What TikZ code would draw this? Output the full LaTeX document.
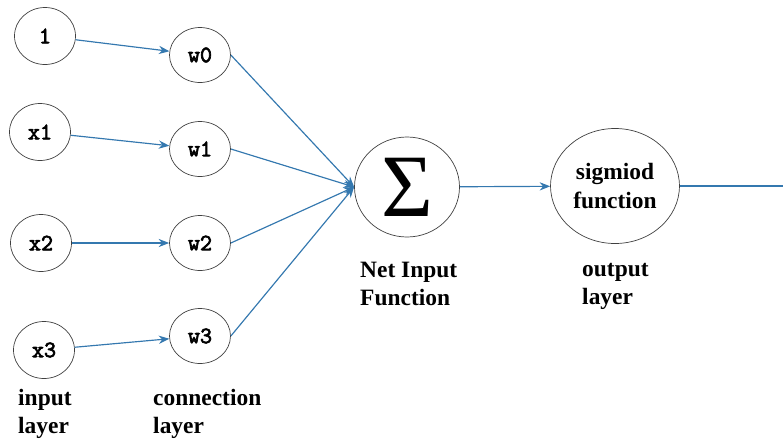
\documentclass[tikz,border=0pt]{standalone}
\usepackage{fontspec}
\setmainfont{Liberation Serif}
\newfontfamily\unitfont{Latin Modern Mono}[FakeBold=3]
\usetikzlibrary{shapes.geometric, arrows.meta}
\definecolor{linkblue}{RGB}{52,120,175}
\tikzstyle{unit} = [ellipse, draw=black!75, line width=0.6pt, font=\unitfont\fontsize{20}{23}\selectfont]
\tikzstyle{inp} = [unit, minimum width=1.83cm, minimum height=1.71cm]
\tikzstyle{wgt} = [unit, minimum width=1.83cm, minimum height=1.65cm]
\tikzstyle{caption} = [anchor=west, align=left, inner sep=0pt, font=\bfseries\fontsize{20}{24}\selectfont]
\tikzstyle{link} = [draw=linkblue, line width=1pt, -{Stealth[length=9pt,width=7pt]}]

\begin{document}
\begin{tikzpicture}[x=0.03cm, y=-0.03cm]
        \path[use as bounding box, clip] (0,0) rectangle (783,441);

        % input layer
        \node[inp] (one) at (45,36) {1};
        \node[inp] (x1) at (40,132) {x1};
        \node[inp] (x2) at (41,243) {x2};
        \node[inp] (x3) at (44,350) {x3};

        % connection layer
        \node[wgt] (w0) at (200,55) {w0};
        \node[wgt] (w1) at (200,149) {w1};
        \node[wgt] (w2) at (200,243) {w2};
        \node[wgt] (w3) at (200,336) {w3};

        % summation and activation
        \node[unit, minimum width=3.15cm, minimum height=3cm, font=\fontsize{76}{76}\selectfont] (sum) at (407,187) {Σ};
        \node[unit, minimum width=3.75cm, minimum height=3.45cm, align=center, font=\bfseries\fontsize{20}{24}\selectfont] (sig) at (615,186) {sigmiod\\function};
        \coordinate (out) at (800,186);

        \draw[link] (one) -- (w0);
        \draw[link] (x1) -- (w1);
        \draw[link] (x2) -- (w2);
        \draw[link] (x3) -- (w3);

        \draw[link] (w0.east) -- (sum.west);
        \draw[link] (w1.east) -- (sum.west);
        \draw[link] (w2.east) -- (sum.west);
        \draw[link] (w3.east) -- (sum.west);

        \draw[link] (sum) -- (sig);
        \draw[link] (sig) -- (out);

        % layer names
        \node[caption] (inlbl) at (18,414) {input\\layer};
        \node[caption] (cnlbl) at (153,414) {connection\\layer};
        \node[caption] (netlbl) at (360,284) {Net Input\\Function};
        \node[caption] (outlbl) at (582,286) {output\\layer};
    \end{tikzpicture}
\end{document}
